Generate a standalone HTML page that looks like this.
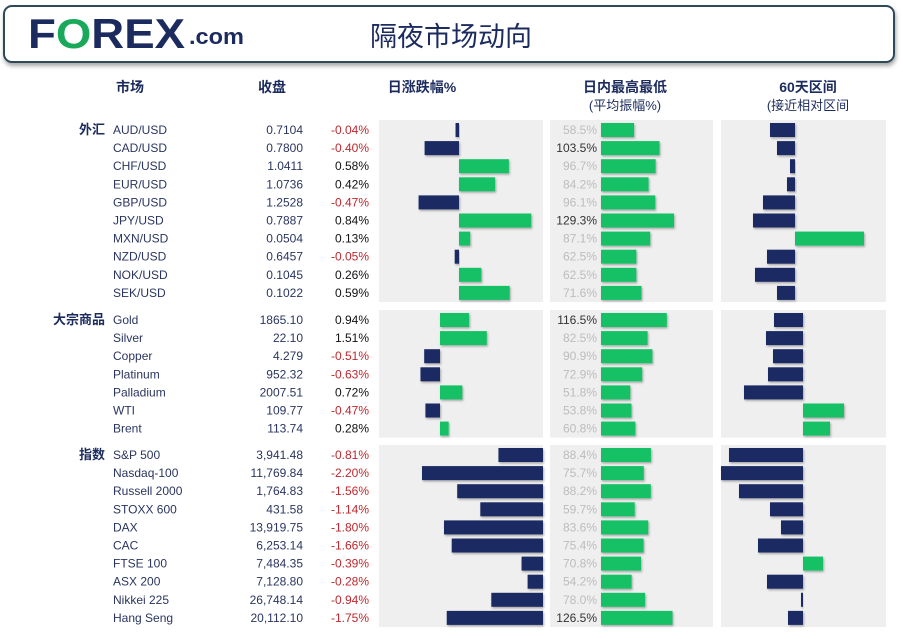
<!DOCTYPE html>
<html><head><meta charset="utf-8">
<style>
body{margin:0;background:#fff;width:903px;height:634px;overflow:hidden;font-family:"Liberation Sans","Noto Sans CJK SC",sans-serif}
svg text{font-family:"Liberation Sans","Noto Sans CJK SC",sans-serif}
</style></head><body>
<svg id="chart" width="903" height="634" xmlns="http://www.w3.org/2000/svg">
<defs>
<filter id="sh" x="-10%" y="-20%" width="130%" height="160%"><feDropShadow dx="1" dy="1.5" stdDeviation="1" flood-color="#000" flood-opacity="0.3"/></filter>
<filter id="bsh" x="-5%" y="-20%" width="110%" height="160%"><feDropShadow dx="1" dy="3" stdDeviation="2" flood-color="#000" flood-opacity="0.35"/></filter>
</defs>
<g>
<rect x="4" y="6" width="890" height="56" rx="8" fill="#fff" stroke="#2f4a58" stroke-width="2" filter="url(#bsh)"/>
<text x="28" y="48" font-size="42" font-weight="bold" fill="#1c2b5e" textLength="157" lengthAdjust="spacingAndGlyphs">F<tspan fill="#1aa85a">O</tspan>REX</text>
<text x="189" y="44" font-size="22" font-weight="bold" fill="#1c2b5e" textLength="55" lengthAdjust="spacingAndGlyphs">.com</text>
<text x="370" y="46" font-size="27" fill="#1c2b5e">隔夜市场动向</text>
</g>
<g font-size="14" font-weight="bold" fill="#1c2b5e" text-anchor="middle">
<text x="130" y="92">市场</text>
<text x="272" y="92">收盘</text>
<text x="422" y="92">日涨跌幅%</text>
<text x="625" y="92">日内最高最低</text>
<text x="625" y="110" font-weight="normal" font-size="13">(平均振幅%)</text>
<text x="808" y="92">60天区间</text>
<text x="808" y="110" font-weight="normal" font-size="13">(接近相对区间</text>
</g>
<g id="panels"></g>
<g id="rows"></g>
</svg>
<script>
const sectionLabels=["外汇","大宗商品","指数"];
const fxNames=["AUD/USD","CAD/USD","CHF/USD","EUR/USD","GBP/USD","JPY/USD","MXN/USD","NZD/USD","NOK/USD","SEK/USD"];
const fxClose=["0.7104","0.7800","1.0411","1.0736","1.2528","0.7887","0.0504","0.6457","0.1045","0.1022"];
const fxChange=[-0.04,-0.40,0.58,0.42,-0.47,0.84,0.13,-0.05,0.26,0.59];
const fxRange=[58.5,103.5,96.7,84.2,96.1,129.3,87.1,62.5,62.5,71.6];
const fx60=[-25,-18,-5,-8,-32,-42,69,-28,-40,-18];
const cmNames=["Gold","Silver","Copper","Platinum","Palladium","WTI","Brent"];
const cmClose=["1865.10","22.10","4.279","952.32","2007.51","109.77","113.74"];
const cmChange=[0.94,1.51,-0.51,-0.63,0.72,-0.47,0.28];
const cmRange=[116.5,82.5,90.9,72.9,51.8,53.8,60.8];
const cm60=[-29,-37,-30,-35,-59,41,27];
const ixNames=["S&P 500","Nasdaq-100","Russell 2000","STOXX 600","DAX","CAC","FTSE 100","ASX 200","Nikkei 225","Hang Seng"];
const ixClose=["3,941.48","11,769.84","1,764.83","431.58","13,919.75","6,253.14","7,484.35","7,128.80","26,748.14","20,112.10"];
const ixChange=[-0.81,-2.20,-1.56,-1.14,-1.80,-1.66,-0.39,-0.28,-0.94,-1.75];
const ixRange=[88.4,75.7,88.2,59.7,83.6,75.4,70.8,54.2,78.0,126.5];
const ix60=[-74,-82,-64,-33,-22,-45,20,-36,-2,-15];

const NS="http://www.w3.org/2000/svg";
const panels=document.getElementById('panels'),rows=document.getElementById('rows');
const NAVY="#1b2a63",GREEN="#12c165";
function mk(tag,attrs,parent){const e=document.createElementNS(NS,tag);for(const k in attrs)e.setAttribute(k,attrs[k]);parent.appendChild(e);return e;}
const sections=[
 {label:sectionLabels[0],names:fxNames,close:fxClose,chg:fxChange,rng:fxRange,d60:fx60,top:120,chgZero:459,chgScale:86,z60:795},
 {label:sectionLabels[1],names:cmNames,close:cmClose,chg:cmChange,rng:cmRange,d60:cm60,top:310,chgZero:440,chgScale:31,z60:803},
 {label:sectionLabels[2],names:ixNames,close:ixClose,chg:ixChange,rng:ixRange,d60:ix60,top:445,chgZero:543,chgScale:55,z60:803}
];
const RH=18.1;
const rangeX=v=>601+v*0.565;
sections.forEach((s,si)=>{
  const n=s.names.length,h=n*RH+1;
  [[379,164],[550,163],[721,165]].forEach(([x,w],pi)=>{
    const r=mk('rect',{x:x,y:s.top,width:w,height:h,fill:'#efefef'},panels);
    
    
  });
  const lab=mk('text',{x:105,y:s.top+14,'font-size':13,'font-weight':'bold',fill:'#1c2b5e','text-anchor':'end'},rows);
  lab.textContent=s.label;
  
  
  for(let i=0;i<n;i++){
    const cy=s.top+10+i*RH, ty=cy+4;
    const t1=mk('text',{x:113,y:ty,'font-size':12,fill:'#2a3560'},rows);t1.textContent=s.names[i];
    
    
    const t2=mk('text',{x:303,y:ty,'font-size':12,fill:'#2a3560','text-anchor':'end'},rows);t2.textContent=s.close[i];
    
    
    const c=s.chg[i];
    const t3=mk('text',{x:369,y:ty,'font-size':12,fill:c<0?'#c0272d':'#111','text-anchor':'end'},rows);t3.textContent=c.toFixed(2)+'%';
    
    
    const len=Math.abs(c)*s.chgScale;
    const b=mk('rect',{x:c<0?s.chgZero-len:s.chgZero,y:cy-7,width:Math.max(len,1.5),height:14,fill:c<0?NAVY:GREEN,filter:'url(#sh)'},rows);
    
    
    const rv=s.rng[i];
    const t4=mk('text',{x:597,y:ty,'font-size':12,fill:rv>100?'#333':'#bcbcbc','text-anchor':'end'},rows);t4.textContent=rv.toFixed(1)+'%';
    
    
    const rb=mk('rect',{x:rangeX(0),y:cy-7,width:rangeX(rv)-rangeX(0),height:14,fill:GREEN,filter:'url(#sh)'},rows);
    
    
    const d=s.d60[i],dl=Math.abs(d);
    const db=mk('rect',{x:d<0?s.z60-dl:s.z60,y:cy-7,width:Math.max(dl,1.5),height:14,fill:d<0?NAVY:GREEN,filter:'url(#sh)'},rows);
    
    
  }
});
</script>
</body></html>
